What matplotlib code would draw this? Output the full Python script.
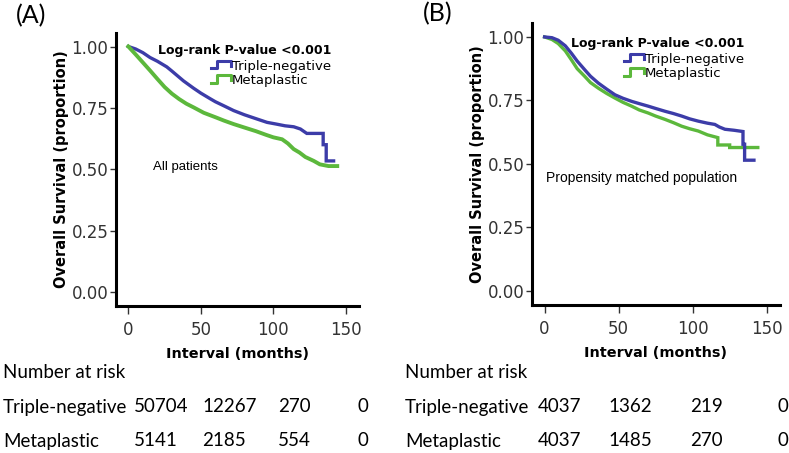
import matplotlib
matplotlib.use("Agg")
import matplotlib.pyplot as plt
from matplotlib.lines import Line2D
from matplotlib.legend_handler import HandlerBase

# ---- data ----
# panel A: all patients
a_tn_t = [0, 5, 10, 15, 20, 26.5, 30, 38, 45, 50, 56.5, 60, 66, 72.6, 80, 88, 95.6,
          102, 108, 114, 118.6, 123, 128, 134.3, 134.3, 136.4, 136.4, 141.5]
a_tn_s = [1.0, 0.99, 0.975, 0.955, 0.94, 0.917, 0.90, 0.86, 0.83, 0.81, 0.787, 0.775,
          0.758, 0.739, 0.722, 0.706, 0.691, 0.684, 0.677, 0.673, 0.664, 0.646, 0.646,
          0.646, 0.60, 0.60, 0.534, 0.534]
a_mp_t = [0, 5, 10, 15, 20, 25, 30, 35, 40, 45, 52, 60, 66, 72.6, 80, 88, 95, 100,
          106, 110, 114, 118, 122, 127.8, 132, 138, 144]
a_mp_s = [1.0, 0.968, 0.935, 0.902, 0.868, 0.835, 0.808, 0.786, 0.767, 0.752, 0.73,
          0.712, 0.698, 0.684, 0.67, 0.655, 0.64, 0.63, 0.622, 0.605, 0.582, 0.568,
          0.55, 0.534, 0.52, 0.513, 0.513]

# panel B: propensity matched population
b_tn_t = [0, 5, 9.2, 14, 18.2, 22, 27.2, 31, 36.3, 42, 47.5, 53, 58.8, 64, 70, 75,
          81.3, 87, 92.6, 98, 103.8, 110, 115, 118, 121.8, 128, 134, 134, 135.1,
          135.1, 141.4]
b_tn_s = [1.0, 0.997, 0.987, 0.965, 0.935, 0.905, 0.87, 0.845, 0.818, 0.794, 0.772,
          0.758, 0.746, 0.737, 0.727, 0.718, 0.707, 0.698, 0.688, 0.677, 0.668, 0.66,
          0.655, 0.645, 0.636, 0.632, 0.627, 0.577, 0.577, 0.514, 0.514]
b_mp_t = [0, 5, 9.2, 14, 18.2, 22, 27.2, 31, 36.3, 42, 47.5, 53, 58.8, 64, 70, 75,
          81.3, 87, 92.6, 98, 103.8, 110, 117, 117, 125, 125, 144]
b_mp_s = [1.0, 0.99, 0.974, 0.945, 0.909, 0.875, 0.844, 0.82, 0.798, 0.777, 0.759,
          0.742, 0.727, 0.712, 0.70, 0.688, 0.675, 0.662, 0.648, 0.638, 0.629, 0.614,
          0.603, 0.574, 0.574, 0.564, 0.564]

groups = ["Triple-negative", "Metaplastic"]
risk_a = {"Triple-negative": [50704, 12267, 270, 0], "Metaplastic": [5141, 2185, 554, 0]}
risk_b = {"Triple-negative": [4037, 1362, 219, 0], "Metaplastic": [4037, 1485, 270, 0]}

BLUE = "#3c3ca8"
GREEN = "#5cb83c"
W, H = 789, 453


class StepHandler(HandlerBase):
    def create_artists(self, legend, orig_handle, xdescent, ydescent,
                       width, height, fontsize, trans):
        x0, y0 = -xdescent, -ydescent
        xs = [x0, x0 + 0.3 * width, x0 + 0.3 * width, x0 + width, x0 + width]
        ys = [y0 + 0.15 * height, y0 + 0.15 * height, y0 + 0.95 * height,
              y0 + 0.95 * height, y0 + 0.45 * height]
        ln = Line2D(xs, ys, color=orig_handle.get_color(), lw=2.2, transform=trans)
        return [ln]


def setup(ax, note, note_xy, note_size):
    ax.set_xlim(-8.5, 159)
    ax.set_ylim(-0.057, 1.055)
    for s in ["top", "right"]:
        ax.spines[s].set_visible(False)
    for s in ["left", "bottom"]:
        ax.spines[s].set_linewidth(2.2)
    ax.set_xticks([0, 50, 100, 150])
    ax.set_yticks([0, 0.25, 0.5, 0.75, 1.0])
    ax.set_yticklabels(["0.00", "0.25", "0.50", "0.75", "1.00"])
    ax.tick_params(direction="out", width=1.0, labelsize=12,
                   colors="#333333", labelcolor="#333333")
    ax.tick_params(axis="x", length=6, pad=4.5)
    ax.tick_params(axis="y", length=4.5, pad=1)
    ax.set_xlabel("Interval (months)", fontweight="bold", fontsize=10.4, labelpad=6)
    ax.set_ylabel("Overall Survival (proportion)", fontweight="bold", fontsize=10.5,
                  labelpad=2)
    ax.text(note_xy[0], note_xy[1], note, fontsize=note_size, family="Liberation Sans",
            va="center", ha="left")


def legend(ax, h1, h2, anchor):
    leg = ax.legend([h1, h2], groups, handler_map={Line2D: StepHandler()},
                    loc="upper right", bbox_to_anchor=anchor, frameon=False,
                    fontsize=9.5, handlelength=1.5, handletextpad=0.1,
                    labelspacing=0.1, borderpad=0, borderaxespad=0,
                    title="Log-rank P-value <0.001", alignment="right",
                    title_fontproperties={"weight": "bold", "size": 9})
    leg._legend_box.sep = 2


fig = plt.figure(figsize=(W / 100, H / 100), dpi=100)

axA = fig.add_axes([116 / W, 1 - 306 / H, 243 / W, 273 / H])
setup(axA, "All patients", (17, 0.51), 9.5)
hA1, = axA.plot(a_tn_t, a_tn_s, color=BLUE, lw=2.4, solid_joinstyle="miter")
hA2, = axA.plot(a_mp_t, a_mp_s, color=GREEN, lw=2.8, solid_joinstyle="miter")
legend(axA, hA1, hA2, (0.885, 0.96))

axB = fig.add_axes([532 / W, 1 - 305 / H, 248 / W, 282 / H])
setup(axB, "Propensity matched population", (1, 0.445), 10)
hB2, = axB.plot(b_mp_t, b_mp_s, color=GREEN, lw=2.4, solid_joinstyle="miter")
hB1, = axB.plot(b_tn_t, b_tn_s, color=BLUE, lw=2.4, solid_joinstyle="miter")
legend(axB, hB1, hB2, (0.855, 0.95))

# panel letters
fig.text(16 / W, 1 - 16 / H, "(A)", fontsize=18, family="Lato", va="center")
fig.text(423 / W, 1 - 14 / H, "(B)", fontsize=18, family="Lato", va="center")

# number at risk tables
rf = dict(fontsize=13.5, family="Lato", va="center", ha="left")
rows_y = [407, 441]
cols_a = [134, 202, 278, 358]
cols_b = [538, 608, 690, 778]
for x0, cols, risk in [(3, cols_a, risk_a), (405, cols_b, risk_b)]:
    fig.text(x0 / W, 1 - 372 / H, "Number at risk", **rf)
    for g, yy in zip(groups, rows_y):
        fig.text(x0 / W, 1 - yy / H, g, **rf)
        for cx, v in zip(cols, risk[g]):
            fig.text(cx / W, 1 - yy / H, str(v), **rf)

fig.savefig("out.png", dpi=100)
